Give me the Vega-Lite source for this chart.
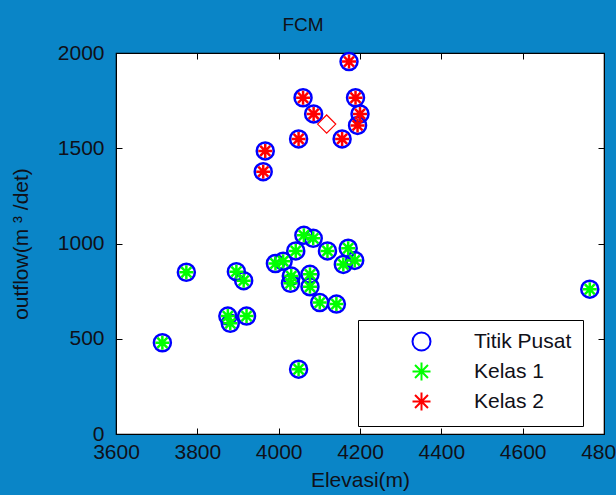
{
  "$schema": "https://vega.github.io/schema/vega-lite/v6.json",
  "width": 488,
  "height": 381,
  "autosize": {"type": "none"},
  "padding": {"left": 116, "top": 53, "right": 12, "bottom": 61},
  "background": "#0a85c7",
  "title": {"text": "FCM", "font": "Liberation Sans", "fontSize": 19, "fontWeight": "normal", "color": "#101018", "anchor": "middle", "dx": -57, "offset": 7},
  "config": {
    "view": {"fill": "white", "stroke": "black", "strokeWidth": 1.2},
    "axis": {"domainColor": "black", "tickColor": "black", "tickSize": -6, "grid": false, "labelFont": "Liberation Sans", "labelFontSize": 21, "labelColor": "#101018", "titleFont": "Liberation Sans", "titleFontSize": 21, "titleFontWeight": "normal", "titleColor": "#101018", "labelFlush": false, "format": "d"},
    "legend": {"orient": "none", "legendX": 242, "legendY": 267, "fillColor": "white", "strokeColor": "black", "cornerRadius": 0, "padding": 11, "symbolSize": 324, "symbolStrokeWidth": 2, "symbolOffset": 42, "labelOffset": 42, "rowPadding": 3, "labelFont": "Liberation Sans", "labelFontSize": 21, "labelColor": "#101018"}
  },
  "datasets": {
    "titik": [
      {"x": 4062, "y": 1043, "kelas": "Kelas 1"},
      {"x": 4085, "y": 1027, "kelas": "Kelas 1"},
      {"x": 4042, "y": 961, "kelas": "Kelas 1"},
      {"x": 4120, "y": 961, "kelas": "Kelas 1"},
      {"x": 4171, "y": 975, "kelas": "Kelas 1"},
      {"x": 4187, "y": 911, "kelas": "Kelas 1"},
      {"x": 4159, "y": 890, "kelas": "Kelas 1"},
      {"x": 3992, "y": 895, "kelas": "Kelas 1"},
      {"x": 4011, "y": 907, "kelas": "Kelas 1"},
      {"x": 4031, "y": 829, "kelas": "Kelas 1"},
      {"x": 4029, "y": 791, "kelas": "Kelas 1"},
      {"x": 4077, "y": 838, "kelas": "Kelas 1"},
      {"x": 4077, "y": 773, "kelas": "Kelas 1"},
      {"x": 4101, "y": 690, "kelas": "Kelas 1"},
      {"x": 4142, "y": 682, "kelas": "Kelas 1"},
      {"x": 3773, "y": 849, "kelas": "Kelas 1"},
      {"x": 3896, "y": 852, "kelas": "Kelas 1"},
      {"x": 3914, "y": 805, "kelas": "Kelas 1"},
      {"x": 3875, "y": 619, "kelas": "Kelas 1"},
      {"x": 3881, "y": 581, "kelas": "Kelas 1"},
      {"x": 3921, "y": 619, "kelas": "Kelas 1"},
      {"x": 3714, "y": 479, "kelas": "Kelas 1"},
      {"x": 4049, "y": 340, "kelas": "Kelas 1"},
      {"x": 4765, "y": 760, "kelas": "Kelas 1"},
      {"x": 4173, "y": 1955, "kelas": "Kelas 2"},
      {"x": 4060, "y": 1765, "kelas": "Kelas 2"},
      {"x": 4189, "y": 1765, "kelas": "Kelas 2"},
      {"x": 4086, "y": 1680, "kelas": "Kelas 2"},
      {"x": 4200, "y": 1680, "kelas": "Kelas 2"},
      {"x": 4194, "y": 1620, "kelas": "Kelas 2"},
      {"x": 4049, "y": 1549, "kelas": "Kelas 2"},
      {"x": 4156, "y": 1549, "kelas": "Kelas 2"},
      {"x": 3967, "y": 1486, "kelas": "Kelas 2"},
      {"x": 3962, "y": 1377, "kelas": "Kelas 2"}
    ],
    "pusat": [
      {"x": 4118, "y": 1627}
    ]
  },
  "data": {"name": "titik"},
  "layer": [
    {
      "mark": {"type": "point", "filled": false, "strokeWidth": 2.5, "size": 289, "opacity": 1},
      "encoding": {
        "x": {"field": "x", "type": "quantitative", "scale": {"domain": [3600, 4800], "nice": false, "zero": false}, "axis": {"orient": "bottom", "values": [3600, 3800, 4000, 4200, 4400, 4600, 4800], "labelPadding": 13, "title": "Elevasi(m)", "titlePadding": 7}},
        "y": {"field": "y", "type": "quantitative", "scale": {"domain": [0, 2000], "nice": false}, "axis": {"orient": "left", "values": [0, 500, 1000, 1500, 2000], "labelPadding": 18, "title": "outflow(m ³ /det)", "titlePadding": 26}},
        "stroke": {"datum": "Titik Pusat", "type": "nominal", "title": null, "scale": {"domain": ["Titik Pusat", "Kelas 1", "Kelas 2"], "range": ["#0000ff", "#00ff00", "#ff0000"]}, "legend": {"title": null, "labelExpr": "datum.label + '\u00a0'"}},
        "shape": {"datum": "Titik Pusat", "type": "nominal", "title": null, "scale": {"domain": ["Titik Pusat", "Kelas 1", "Kelas 2"], "range": ["circle", "M-1,0L1,0M0,-1L0,1M-0.72,-0.72L0.72,0.72M-0.72,0.72L0.72,-0.72", "M-1,0L1,0M0,-1L0,1M-0.72,-0.72L0.72,0.72M-0.72,0.72L0.72,-0.72"]}, "legend": {"title": null, "labelExpr": "datum.label + '\u00a0'"}}
      }
    },
    {
      "mark": {"type": "point", "filled": false, "strokeWidth": 2.5, "size": 196, "opacity": 1},
      "encoding": {
        "x": {"field": "x", "type": "quantitative", "scale": {"domain": [3600, 4800], "nice": false, "zero": false}, "axis": {"orient": "top", "values": [3600, 3800, 4000, 4200, 4400, 4600, 4800], "labels": false, "title": null}},
        "y": {"field": "y", "type": "quantitative", "scale": {"domain": [0, 2000], "nice": false}, "axis": {"orient": "right", "values": [0, 500, 1000, 1500, 2000], "labels": false, "title": null}},
        "stroke": {"field": "kelas", "type": "nominal", "title": null, "legend": {"title": null}},
        "shape": {"field": "kelas", "type": "nominal", "title": null, "legend": {"title": null}}
      }
    },
    {
      "data": {"name": "pusat"},
      "mark": {"type": "point", "shape": "diamond", "filled": false, "stroke": "#ff0000", "strokeWidth": 1.2, "size": 330, "opacity": 1},
      "encoding": {
        "x": {"field": "x", "type": "quantitative", "scale": {"domain": [3600, 4800], "nice": false, "zero": false}, "axis": null},
        "y": {"field": "y", "type": "quantitative", "scale": {"domain": [0, 2000], "nice": false}, "axis": null}
      }
    }
  ],
  "resolve": {"axis": {"x": "independent", "y": "independent"}}
}
